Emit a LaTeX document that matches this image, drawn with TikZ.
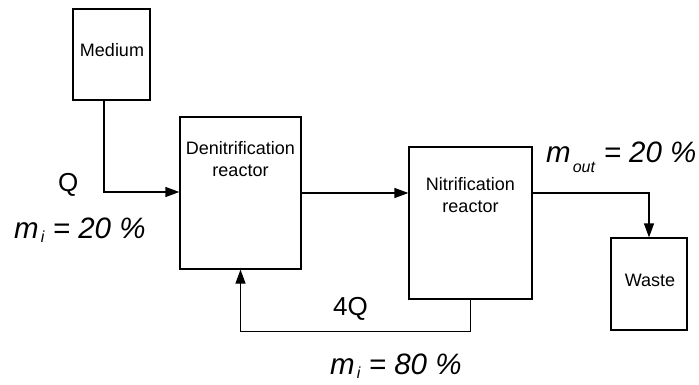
\documentclass[tikz,border=0pt]{standalone}
\usepackage{fontspec}
\setmainfont{Liberation Sans}
\usetikzlibrary{positioning,arrows.meta}
\newcommand{\mfrac}[2]{\textit{m}\kern2pt\raisebox{-#2}{\fontsize{16}{16}\selectfont\textit{#1}}}

\begin{document}
\begin{tikzpicture}[x=1pt,y=-1pt,>={Triangle[length=14pt,width=10pt]},
  box/.style={draw,line width=1.2pt,inner sep=0pt},
  lbl/.style={font=\fontsize{18}{22}\selectfont,align=center,inner sep=0pt},
  big/.style={font=\fontsize{29.5}{32}\selectfont,inner sep=0pt,anchor=base west},
  flow/.style={draw,line width=1.2pt,->}]
\useasboundingbox (0,0) rectangle (699,385);
% boxes
\node[box,minimum width=77pt,minimum height=91pt] (medium) at (111.5,54.5) {};
\node[box,minimum width=121pt,minimum height=152pt] (den) at (240.5,193) {};
\node[box,minimum width=123pt,minimum height=152pt] (nit) at (470.5,223) {};
\node[box,minimum width=76pt,minimum height=92pt] (waste) at (649,284) {};
\node[lbl] (medtxt) at (112,50) {Medium};
\node[lbl,below=25pt of den.north] (dentxt) {Denitrification\\reactor};
\node[lbl,below=31pt of nit.north] (nittxt) {Nitrification\\reactor};
\node[lbl] (wastetxt) at (650,280) {Waste};
% flows
\coordinate (feed) at (104,192);
\draw[flow] (medium.south -| feed) -- (feed) -- (feed -| den.west);
\draw[flow] (den.east) -- (den.east -| nit.west);
\draw[flow] (nit.east |- den.east) -| (waste.north);
\draw[flow] (nit.south) -- ++(0,32) -| (den.south);
% labels
\node[big,font=\fontsize{26}{30}\selectfont] (q) at (58,191) {Q};
\node[big] (min) at (14,238) {\mfrac{i}{4pt} \textit{= 20 \%}};
\node[big,font=\fontsize{26}{30}\selectfont] (rq) at (333,315) {4Q};
\node[big] (mrec) at (330,374) {\mfrac{i}{4pt} \textit{= 80 \%}};
\node[big] (mout) at (546,163) {\mfrac{out}{10pt} \textit{= 20 \%}};
\end{tikzpicture}
\end{document}
